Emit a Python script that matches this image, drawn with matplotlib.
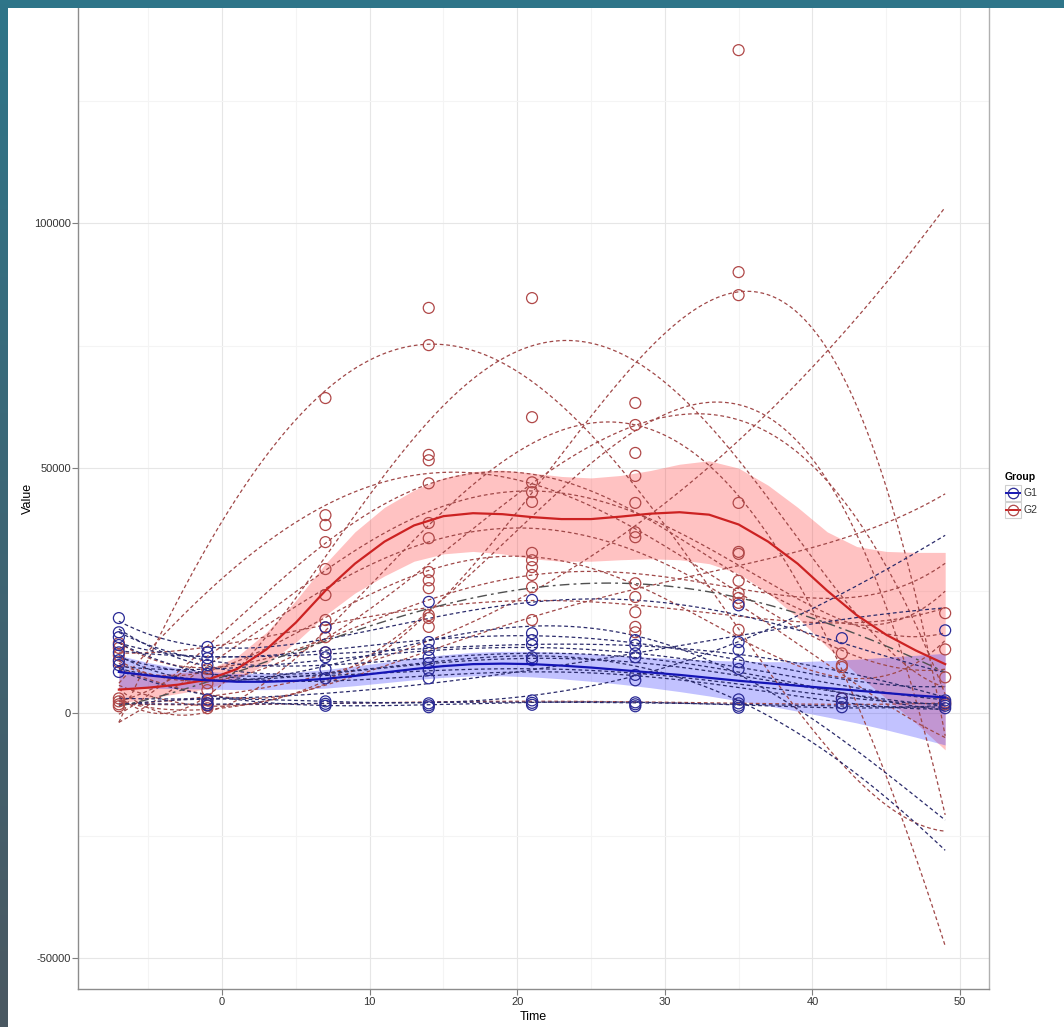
import numpy as np
import matplotlib
matplotlib.use("Agg")
import matplotlib.pyplot as plt
from matplotlib.lines import Line2D
from matplotlib.patches import Rectangle

plt.rcParams['font.family'] = ['Liberation Sans', 'DejaVu Sans']

times = [-7, -1, 7, 14, 21, 28, 35, 42, 49]

# observed values per time point, group G1
g1_points = {
    -7: [19400, 16500, 15500, 13900, 12400, 10800, 9800, 8400],
    -1: [13500, 12400, 11200, 9800, 8000, 2800, 2000, 1600],
    7: [17500, 12400, 11400, 9000, 7100, 2400, 1900, 1500],
    14: [22700, 14500, 12900, 11400, 10200, 8800, 7100, 2000, 1600, 1200],
    21: [23100, 16300, 14900, 13900, 11400, 10800, 2600, 2100, 1700],
    28: [14900, 13900, 12200, 11400, 7800, 6700, 2200, 1800, 1400],
    35: [22000, 14500, 12900, 10400, 9000, 2800, 2000, 1500, 1100],
    42: [15300, 3000, 2000, 1200],
    49: [16900, 2600, 2000, 1500, 1000],
}
# group G2
g2_points = {
    -7: [14300, 13300, 11800, 10400, 3000, 2400, 1800, 1400],
    -1: [9000, 7500, 6100, 4700, 2600, 2000, 1500, 1000],
    7: [64300, 40400, 38400, 34900, 29400, 24100, 19000, 17500, 15500, 12400],
    14: [82700, 75100, 52700, 51600, 46900, 38800, 35700, 28800, 27100, 25500, 20000, 19400, 17600],
    21: [84700, 60400, 47100, 45100, 43100, 32700, 31200, 29800, 28200, 25700, 19000],
    28: [63300, 58800, 53100, 48400, 42900, 36900, 35900, 26500, 23700, 20600, 17600, 16500],
    35: [135300, 90000, 85300, 42900, 32900, 32500, 27000, 24500, 23500, 22500, 17000],
    42: [12200, 9800, 9400, 3000],
    49: [20400, 13000, 7300, 2200, 1800],
}

# per-subject trajectories (value at each time)
g2_subjects = [
    [0, 30000, 66000, 80000, 68000, 42000, 15000, -5000, -26000],
    [8000, 5000, 8000, 18000, 42000, 72000, 95000, 60000, -2000],
    [2000, 3000, 8000, 15000, 25000, 38000, 55000, 78000, 103000],
    [3000, 5000, 30000, 60000, 76000, 72000, 50000, 25000, 5000],
    [5000, 3000, 6000, 20000, 40000, 58000, 65000, 40000, -20000],
    [10000, 8000, 15000, 30000, 45000, 60000, 63000, 40000, 5000],
    [8000, 20000, 45000, 52000, 45000, 35000, 25000, 15000, 8000],
    [3000, 10000, 30000, 42000, 45000, 40000, 30000, 20000, 16000],
    [2000, 2000, 5000, 12000, 20000, 26000, 30000, 35000, 45000],
    [15000, 8000, 15000, 25000, 28000, 27000, 25000, 25000, 30000],
    [12000, 5000, 18000, 36000, 32000, 20000, 15000, 12000, 13000],
    [14000, 10000, 17000, 28000, 22000, 17000, 20000, 22000, 20000],
    [2000, 8000, 38000, 50000, 47000, 37000, 30000, 20000, 24000],
    [3000, 5000, 15000, 35000, 55000, 63000, 45000, 5000, -46000],
    [-2000, 10000, 25000, 35000, 38000, 33000, 22000, 8000, -5000],
    [2000, 1500, 2000, 2500, 2500, 2000, 2000, 2000, 2000],
]
g1_subjects = [
    [19000, 13000, 15000, 20000, 23000, 22000, 20000, 15000, 8000],
    [12000, 6000, 10000, 15000, 18000, 15000, 8000, -5000, -22000],
    [17000, 10000, 8000, 10000, 12000, 10000, 2000, -10000, -28000],
    [2000, 2000, 2500, 3000, 4000, 6000, 15000, 25000, 36000],
    [3000, 3000, 4000, 6000, 9000, 12000, 16000, 19000, 21500],
    [9000, 7000, 8000, 10000, 11000, 10000, 9000, 3000, 2000],
    [13000, 11000, 12000, 14000, 14000, 13000, 12000, 9000, 3000],
    [16000, 12000, 9000, 11000, 12000, 12000, 9000, 3000, 1000],
    [11000, 9000, 7000, 8000, 10000, 8000, 6000, 3000, 2000],
    [9000, 3000, 2000, 2000, 2000, 2000, 1500, 1500, 1500],
    [2000, 1800, 2000, 2200, 2300, 2000, 1800, 1500, 1200],
    [15000, 10000, 13000, 17000, 15000, 13000, 11000, 8000, 5000],
    [10000, 8000, 11000, 14000, 13000, 11000, 10000, 6000, 2500],
    [14000, 9000, 6000, 7000, 9000, 8000, 5000, 2000, 1000],
]
dashdot_subject = [2000, 5000, 15000, 23000, 25000, 25000, 24000, 18000, 8000]

# group smooths with confidence band
smooth_x = list(range(-7, 50, 2))
g2_fit = [4800, 5200, 5800, 6800, 9000, 13000, 18500, 25000, 30500, 35000, 38300, 40200,
          40800, 40600, 40000, 39600, 39600, 40100, 40700, 41000, 40500, 38500, 35000,
          30500, 25000, 20000, 16000, 12800, 10000]
g2_lo = [2000, 3000, 4000, 5000, 7000, 10000, 14500, 20000, 24500, 28000, 31000, 32500,
         33000, 32500, 31500, 31000, 31000, 31300, 31500, 31300, 30500, 28500, 24500,
         19500, 13500, 8000, 3000, -2000, -7500]
g2_hi = [8000, 7800, 8200, 8800, 11500, 16500, 23000, 30500, 37000, 42000, 45500, 48000,
         49300, 49600, 49000, 48300, 48000, 48500, 49500, 50800, 51500, 50000, 46500,
         42000, 37000, 34000, 33000, 32800, 32800]
g1_fit = [8400, 7700, 7100, 6700, 6400, 6400, 6600, 7000, 7600, 8300, 9000, 9600, 10000,
          10100, 10000, 9700, 9300, 8800, 8300, 7800, 7200, 6600, 6100, 5600, 5100, 4600,
          4100, 3600, 3200]
g1_lo = [5000, 5100, 5000, 4900, 4800, 4800, 4900, 5100, 5600, 6200, 6800, 7300, 7600,
         7600, 7400, 7000, 6500, 5900, 5200, 4400, 3500, 2500, 1500, 400, -800, -2000,
         -3400, -4900, -6500]
g1_hi = [11800, 10300, 9200, 8500, 8100, 8100, 8400, 8900, 9600, 10400, 11200, 11900,
         12400, 12600, 12600, 12400, 12100, 11700, 11400, 11100, 10800, 10600, 10500,
         10500, 10700, 11000, 11400, 11800, 12200]

W, H = 1064, 1027
fig = plt.figure(figsize=(W / 100, H / 100), dpi=100)
fig.patch.set_facecolor('white')

ax = fig.add_axes([78 / W, 1 - 989 / H, (989 - 78) / W, (989 - 8) / H])
ax.set_xlim(-9.77, 51.97)
ax.set_ylim(-56300, 143900)

# grid like theme_bw
ax.set_xticks([0, 10, 20, 30, 40, 50])
ax.set_yticks([-50000, 0, 50000, 100000])
ax.set_xticks([-5, 5, 15, 25, 35, 45], minor=True)
ax.set_yticks([-25000, 25000, 75000, 125000], minor=True)
ax.grid(True, which='major', color='#e6e6e6', lw=0.8)
ax.grid(True, which='minor', color='#f4f4f4', lw=0.8)
ax.set_axisbelow(True)
ax.tick_params(which='minor', length=0)
ax.tick_params(which='major', length=4, color='#7f7f7f', labelsize=8, labelcolor='#333333', pad=2)
ax.tick_params(axis='y', pad=1)
ax.set_yticklabels(['-50000', '0', '50000', '100000'])
for s in ['left', 'bottom', 'right']:
    ax.spines[s].set_color('#8c8c8c')
    ax.spines[s].set_linewidth(1.0)
ax.spines['top'].set_visible(False)
ax.spines['right'].set_color('#b0b0b0')

ax.set_xlabel('Time', fontsize=9, labelpad=3)
ax.set_ylabel('Value', fontsize=9, labelpad=0)

# bands
ax.fill_between(smooth_x, g2_lo, g2_hi, color='#ff2020', alpha=0.27, lw=0, zorder=1)
ax.fill_between(smooth_x, g1_lo, g1_hi, color='#2020ff', alpha=0.27, lw=0, zorder=1)

# dashed per-subject fits
xfine = np.linspace(-7, 49, 200)
for vals in g2_subjects:
    coef = np.polyfit(times, vals, 4)
    ax.plot(xfine, np.polyval(coef, xfine), color='#a04848', lw=0.9,
            ls=(0, (3, 2.2)), zorder=2)
for vals in g1_subjects:
    coef = np.polyfit(times, vals, 4)
    ax.plot(xfine, np.polyval(coef, xfine), color='#2b2b6b', lw=0.9,
            ls=(0, (3, 2.2)), zorder=2)
coef = np.polyfit(times, dashdot_subject, 4)
ax.plot(xfine, np.polyval(coef, xfine), color='#505050', lw=1.0,
        ls=(0, (7, 3, 2, 3)), zorder=2)

# points
for t, vals in g2_points.items():
    ax.scatter([t] * len(vals), vals, s=62, facecolors='none',
               edgecolors='#b04848', linewidths=0.9, zorder=3)
for t, vals in g1_points.items():
    ax.scatter([t] * len(vals), vals, s=62, facecolors='none',
               edgecolors='#2a2a96', linewidths=0.9, zorder=3)

# group smooth lines
ax.plot(smooth_x, g2_fit, color='#cc2222', lw=1.6, zorder=4)
ax.plot(smooth_x, g1_fit, color='#1515b5', lw=1.6, zorder=4)

# legend
fig.text(1005 / W, 1 - 477 / H, 'Group', fontsize=7.5, fontweight='bold', va='center', ha='left')
for i, (lab, lc, pc) in enumerate([('G1', '#1515b5', '#2a2a96'), ('G2', '#cc2222', '#b04848')]):
    yc = 493 + 17 * i
    fig.add_artist(Rectangle((1005 / W, 1 - (yc + 8) / H), 16 / W, 16 / H,
                             transform=fig.transFigure, fc='white', ec='#d0d0d0', lw=0.8))
    fig.add_artist(Line2D([1006 / W, 1020 / W], [1 - yc / H, 1 - yc / H],
                          transform=fig.transFigure, color=lc, lw=1.4))
    fig.add_artist(Line2D([1013 / W], [1 - yc / H], transform=fig.transFigure,
                          marker='o', ms=7.5, mfc='none', mec=pc, mew=0.9))
    fig.text(1024 / W, 1 - yc / H, lab, fontsize=7.5, va='center', ha='left', color='#333333')

# slide frame (teal strip on top, gradient strip on the left)
fig.add_artist(Rectangle((0, 1 - 8 / H), 1, 8 / H, transform=fig.transFigure,
                         fc='#2e7589', ec='none', zorder=10))
lax = fig.add_axes([0, 0, 8 / W, 1], zorder=10)
grad = np.linspace(0, 1, 256).reshape(-1, 1)
cmap = matplotlib.colors.LinearSegmentedColormap.from_list('frame', ['#2e7589', '#3d6675', '#4a5861'])
lax.imshow(grad, aspect='auto', cmap=cmap, extent=[0, 1, 0, 1], origin='upper')
lax.axis('off')

fig.savefig('out.png', dpi=100)
